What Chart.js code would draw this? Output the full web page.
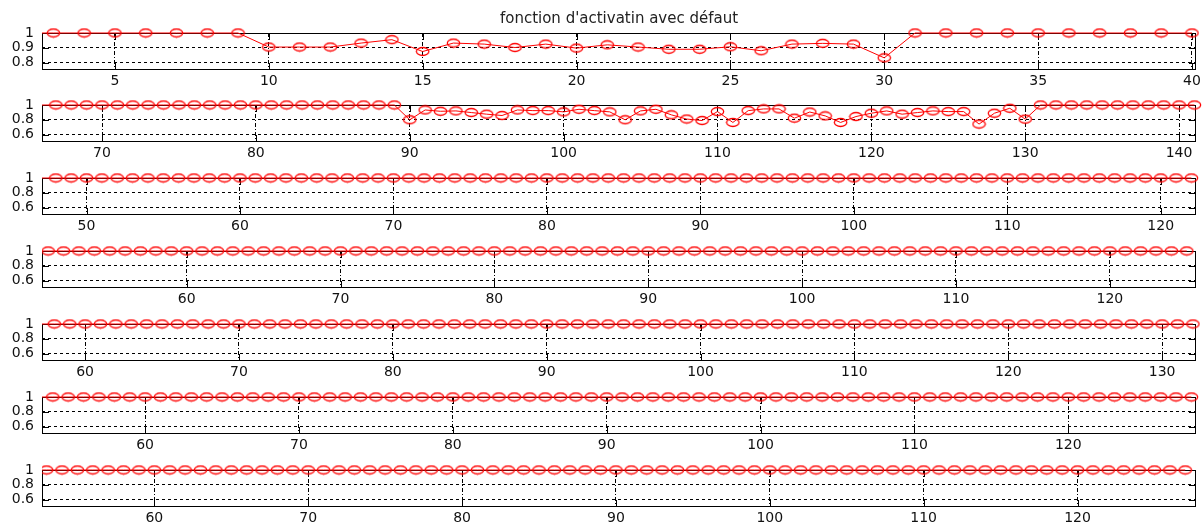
<!DOCTYPE html>
<html>
<head>
<meta charset="utf-8">
<script src="https://cdn.jsdelivr.net/npm/chart.js@4.4.0/dist/chart.umd.min.js"></script>
<style>
  body { margin: 0; background: #fff; }
  #fig { position: relative; width: 1203px; height: 525px; background: #fff; overflow: hidden; }
  #fig canvas { position: absolute; left: 0; }
</style>
</head>
<body>
<div id="fig"></div>
<script>
var titleText = "fonction d'activatin avec défaut";

// one series per row, x runs from xNStart upward in steps of 1
var x1Start = 2;
var y1 = [1, 1, 1, 1, 1, 1, 1, 1,
    0.905, 0.905, 0.905, 0.932, 0.955, 0.875, 0.932, 0.925, 0.902, 0.925, 0.898,
    0.92, 0.905, 0.89, 0.89, 0.907, 0.88, 0.925, 0.93, 0.925, 0.832,
    1, 1, 1, 1, 1, 1, 1, 1, 1, 1];
var x1Ticks = [5, 10, 15, 20, 25, 30, 35, 40];
var y1Ticks = [0.8, 0.9, 1];

var x2Start = 66;
var y2 = [1, 1, 1, 1, 1, 1, 1, 1, 1, 1, 1, 1, 1, 1, 1, 1, 1, 1, 1, 1, 1, 1, 1, 1,
    0.8, 0.933, 0.915, 0.92, 0.898, 0.876, 0.858, 0.933, 0.924, 0.924,
    0.907, 0.942, 0.924, 0.907, 0.8, 0.92, 0.942, 0.867, 0.81, 0.79,
    0.911, 0.764, 0.924, 0.947, 0.947, 0.822, 0.905, 0.853, 0.764, 0.844,
    0.889, 0.92, 0.876, 0.898, 0.92, 0.911, 0.911, 0.742, 0.889, 0.956, 0.809,
    1, 1, 1, 1, 1, 1, 1, 1, 1, 1, 1];
var x2Ticks = [70, 80, 90, 100, 110, 120, 130, 140];
var y2Ticks = [0.6, 0.8, 1];

var x3Start = 47;
var y3 = [1, 1, 1, 1, 1, 1, 1, 1, 1, 1, 1, 1, 1, 1, 1, 1, 1, 1, 1,
    1, 1, 1, 1, 1, 1, 1, 1, 1, 1, 1, 1, 1, 1, 1, 1, 1, 1, 1,
    1, 1, 1, 1, 1, 1, 1, 1, 1, 1, 1, 1, 1, 1, 1, 1, 1, 1, 1,
    1, 1, 1, 1, 1, 1, 1, 1, 1, 1, 1, 1, 1, 1, 1, 1, 1, 1, 1];
var x3Ticks = [50, 60, 70, 80, 90, 100, 110, 120];

var x4Start = 50;
var y4 = [1, 1, 1, 1, 1, 1, 1, 1, 1, 1, 1, 1, 1, 1, 1, 1, 1, 1, 1,
    1, 1, 1, 1, 1, 1, 1, 1, 1, 1, 1, 1, 1, 1, 1, 1, 1, 1, 1,
    1, 1, 1, 1, 1, 1, 1, 1, 1, 1, 1, 1, 1, 1, 1, 1, 1, 1, 1,
    1, 1, 1, 1, 1, 1, 1, 1, 1, 1, 1, 1, 1, 1, 1, 1, 1, 1, 1];
var x4Ticks = [60, 70, 80, 90, 100, 110, 120];

var x5Start = 57;
var y5 = [1, 1, 1, 1, 1, 1, 1, 1, 1, 1, 1, 1, 1, 1, 1, 1, 1, 1, 1,
    1, 1, 1, 1, 1, 1, 1, 1, 1, 1, 1, 1, 1, 1, 1, 1, 1, 1, 1,
    1, 1, 1, 1, 1, 1, 1, 1, 1, 1, 1, 1, 1, 1, 1, 1, 1, 1, 1,
    1, 1, 1, 1, 1, 1, 1, 1, 1, 1, 1, 1, 1, 1, 1, 1, 1, 1, 1];
var x5Ticks = [60, 70, 80, 90, 100, 110, 120, 130];

var x6Start = 53;
var y6 = [1, 1, 1, 1, 1, 1, 1, 1, 1, 1, 1, 1, 1, 1, 1, 1, 1, 1, 1,
    1, 1, 1, 1, 1, 1, 1, 1, 1, 1, 1, 1, 1, 1, 1, 1, 1, 1, 1,
    1, 1, 1, 1, 1, 1, 1, 1, 1, 1, 1, 1, 1, 1, 1, 1, 1, 1, 1,
    1, 1, 1, 1, 1, 1, 1, 1, 1, 1, 1, 1, 1, 1, 1, 1, 1, 1, 1];
var x6Ticks = [60, 70, 80, 90, 100, 110, 120];

var x7Start = 52;
var y7 = [1, 1, 1, 1, 1, 1, 1, 1, 1, 1, 1, 1, 1, 1, 1, 1, 1, 1, 1,
    1, 1, 1, 1, 1, 1, 1, 1, 1, 1, 1, 1, 1, 1, 1, 1, 1, 1, 1,
    1, 1, 1, 1, 1, 1, 1, 1, 1, 1, 1, 1, 1, 1, 1, 1, 1, 1, 1,
    1, 1, 1, 1, 1, 1, 1, 1, 1, 1, 1, 1, 1, 1, 1, 1, 1, 1, 1];
var x7Ticks = [60, 70, 80, 90, 100, 110, 120];

var yLowTicks = [0.6, 0.8, 1];

// axis windows [xmin, xmax, ymin]
var limits = [
    [2.63, 40.13, 0.75],
    [66.1, 141.1, 0.5],
    [47.1, 122.3, 0.5],
    [50.6, 125.6, 0.5],
    [57.2, 132.2, 0.5],
    [53.3, 128.3, 0.5],
    [52.7, 127.7, 0.5]
];

var rows = [
    { start: x1Start, values: y1, xTicks: x1Ticks, yTicks: y1Ticks },
    { start: x2Start, values: y2, xTicks: x2Ticks, yTicks: y2Ticks },
    { start: x3Start, values: y3, xTicks: x3Ticks, yTicks: yLowTicks },
    { start: x4Start, values: y4, xTicks: x4Ticks, yTicks: yLowTicks },
    { start: x5Start, values: y5, xTicks: x5Ticks, yTicks: yLowTicks },
    { start: x6Start, values: y6, xTicks: x6Ticks, yTicks: yLowTicks },
    { start: x7Start, values: y7, xTicks: x7Ticks, yTicks: yLowTicks }
];

var labelFont = { family: 'DejaVu Sans', size: 14 };

// open red "o" marker, a bit wider than tall
function ringMarker() {
    var c = document.createElement('canvas');
    c.width = 15;
    c.height = 11;
    var g = c.getContext('2d');
    g.strokeStyle = '#ff0000';
    g.lineWidth = 1.3;
    g.beginPath();
    g.ellipse(7.5, 5.5, 6.2, 4.0, 0, 0, Math.PI * 2);
    g.stroke();
    return c;
}
var ring = ringMarker();

// box around the axes plus small inward tick marks on all four sides
var axesBox = {
    id: 'axesBox',
    beforeDatasetsDraw: function (chart) {
        var ctx = chart.ctx, a = chart.chartArea;
        var xs = chart.scales.x, ys = chart.scales.y;
        var len = 7;
        ctx.save();
        ctx.strokeStyle = '#000';
        ctx.lineWidth = 1;
        ctx.setLineDash([]);
        ctx.strokeRect(a.left + 0.5, a.top + 0.5, a.right - a.left - 1, a.bottom - a.top - 1);
        ctx.beginPath();
        xs.ticks.forEach(function (t) {
            var px = Math.round(xs.getPixelForValue(t.value)) + 0.5;
            ctx.moveTo(px, a.bottom);
            ctx.lineTo(px, a.bottom - len);
            ctx.moveTo(px, a.top);
            ctx.lineTo(px, a.top + len);
        });
        ys.ticks.forEach(function (t) {
            var py = Math.round(ys.getPixelForValue(t.value)) + 0.5;
            ctx.moveTo(a.left, py);
            ctx.lineTo(a.left + len, py);
            ctx.moveTo(a.right, py);
            ctx.lineTo(a.right - len, py);
        });
        ctx.stroke();
        ctx.restore();
    }
};

var fig = document.getElementById('fig');

rows.forEach(function (row, k) {
    var lim = limits[k];
    var canvas = document.createElement('canvas');
    canvas.width = 1203;
    canvas.height = k === 0 ? 89 : 66;
    canvas.style.top = (k === 0 ? 0 : 22 + 73 * k) + 'px';
    fig.appendChild(canvas);

    var points = row.values.map(function (v, i) {
        return { x: row.start + i, y: v };
    });

    new Chart(canvas, {
        type: 'line',
        data: {
            datasets: [{
                data: points,
                borderColor: '#ff0000',
                borderWidth: 1,
                tension: 0,
                pointStyle: ring,
                pointRadius: function (c) {
                    return c.raw && c.raw.x < lim[0] ? 0 : 4;
                },
                clip: { left: 0, right: 8, top: 8, bottom: 8 }
            }]
        },
        options: {
            responsive: false,
            animation: false,
            devicePixelRatio: 1,
            events: [],
            layout: { padding: { top: k === 0 ? 0 : 10, right: 7, left: 0, bottom: 0 } },
            plugins: {
                legend: { display: false },
                tooltip: { enabled: false },
                title: {
                    display: k === 0,
                    text: titleText,
                    fullSize: false,
                    color: '#222',
                    font: { family: 'DejaVu Sans', size: 15, weight: 'normal' },
                    padding: { top: 10, bottom: 5 }
                }
            },
            scales: {
                x: {
                    type: 'linear',
                    min: lim[0],
                    max: lim[1],
                    afterBuildTicks: function (s) {
                        s.ticks = row.xTicks.map(function (v) { return { value: v }; });
                    },
                    afterFit: function (s) {
                        s.height = 19;
                        s.paddingLeft = 0;
                        s.paddingRight = 0;
                    },
                    grid: { color: '#000', lineWidth: 1, drawTicks: false },
                    border: { display: false, dash: [4, 2, 1, 2] },
                    ticks: {
                        font: labelFont, color: '#111', padding: 3,
                        maxRotation: 0, autoSkip: false,
                        callback: function (v) { return String(v); }
                    }
                },
                y: {
                    min: lim[2],
                    max: 1,
                    afterBuildTicks: function (s) {
                        s.ticks = row.yTicks.map(function (v) { return { value: v }; });
                    },
                    afterFit: function (s) {
                        s.width = 42;
                        s.paddingTop = 0;
                        s.paddingBottom = 0;
                    },
                    grid: { color: '#000', lineWidth: 1, drawTicks: false },
                    border: { display: false, dash: [3, 3] },
                    ticks: {
                        font: labelFont, color: '#111', padding: 8,
                        autoSkip: false,
                        callback: function (v) { return String(v); }
                    }
                }
            }
        },
        plugins: [axesBox]
    });
});
</script>
</body>
</html>
